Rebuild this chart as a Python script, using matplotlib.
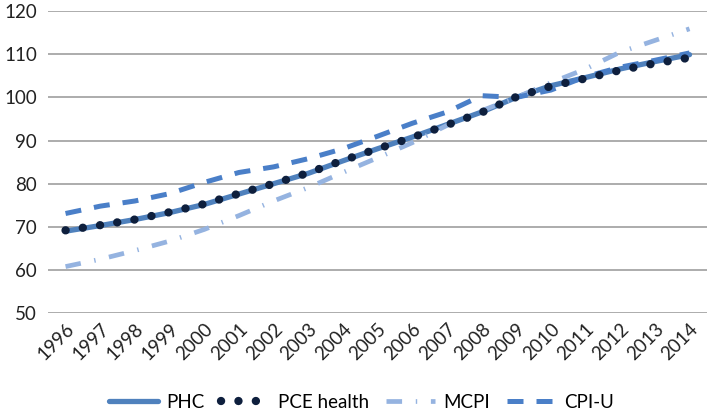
import matplotlib
matplotlib.use('Agg')
import matplotlib.pyplot as plt

plt.rcParams['font.family'] = ['Lato', 'DejaVu Sans']

# data (index, 2009 = 100)
years = list(range(1996, 2015))
phc = [69.0, 70.3, 71.7, 73.3, 75.2, 77.6, 80.0, 82.4, 85.3, 88.1, 90.8, 93.7, 96.6,
       100.0, 102.7, 104.6, 106.6, 108.3, 109.9]
pce_health = [69.2, 70.4, 71.7, 73.4, 75.3, 77.7, 80.0, 82.5, 85.4, 88.1, 90.7, 93.6, 96.5,
              100.1, 102.6, 104.4, 106.3, 107.9, 109.2]
mcpi = [60.8, 62.5, 64.5, 66.7, 69.4, 72.6, 76.0, 79.1, 82.6, 86.0, 89.5, 93.5, 96.9,
        100.0, 103.4, 106.6, 110.5, 113.2, 115.9]
cpi_u = [73.1, 74.8, 76.0, 77.7, 80.3, 82.6, 83.9, 85.8, 88.1, 91.0, 94.0, 96.6, 100.4,
         100.0, 101.7, 104.8, 107.0, 108.6, 110.3]

fig = plt.figure(figsize=(7.09, 4.11), dpi=100)
ax = fig.add_axes([0.068, 0.238, 0.929, 0.735])

x = list(range(len(years)))

ax.plot(x, phc, color='#4f81bd', lw=3.8, label='PHC', zorder=3, solid_capstyle='round')
ax.plot(x, mcpi, color='#95b3e0', lw=3.4, linestyle=(0, (3.3, 2.9, 0.3, 2.9)),
        label='MCPI', zorder=4)
ax.plot(x, cpi_u, color='#4a7fc8', lw=3.6, linestyle=(0, (3.2, 2.6)),
        label='CPI-U', zorder=4)
ax.plot(x, pce_health, color='#0e1f3d', lw=6.0, linestyle=(0, (0.01, 2.08)),
        dash_capstyle='round', label='PCE health', zorder=5)

ax.set_xlim(-0.5, len(years) - 0.5)
ax.set_ylim(50, 120)
ax.set_yticks(range(50, 121, 10))
ax.set_xticks(x)
ax.set_xticklabels([str(y) for y in years], rotation=45, ha='right', rotation_mode='anchor')
ax.tick_params(axis='both', length=0, labelsize=13.5, colors='#222222')
ax.tick_params(axis='x', pad=5)
ax.tick_params(axis='y', pad=8)
ax.grid(axis='y', color='#a6a6a6', lw=1.3)
ax.set_axisbelow(True)
for s in ax.spines.values():
    s.set_visible(False)

h, l = ax.get_legend_handles_labels()
order = [0, 3, 1, 2]
fig.legend([h[i] for i in order], [l[i] for i in order], loc='lower center',
           bbox_to_anchor=(0.51, -0.04), ncol=4, frameon=False, fontsize=13.5,
           handlelength=2.6, columnspacing=0.9, handletextpad=0.45)

fig.savefig('out.png', dpi=100)
